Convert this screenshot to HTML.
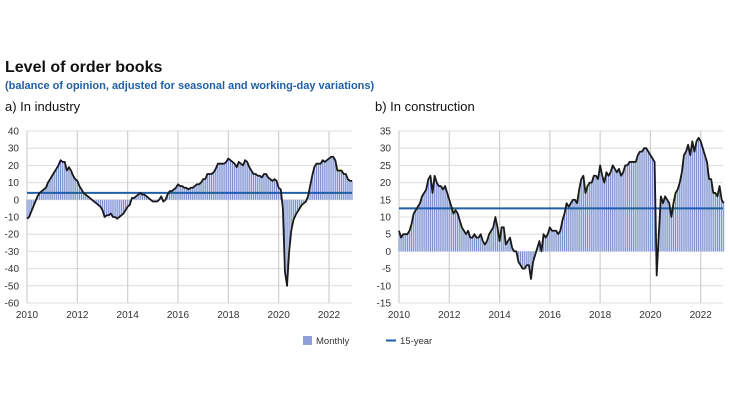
<!DOCTYPE html>
<html><head><meta charset="utf-8"><style>
body{margin:0;background:#fff;font-family:"Liberation Sans",sans-serif;}
svg text{font-family:"Liberation Sans",sans-serif;}
</style></head><body>
<svg width="730" height="410" viewBox="0 0 730 410">
<text x="5" y="72" font-size="16" font-weight="bold" fill="#111">Level of order books</text>
<text x="5" y="89" font-size="11" font-weight="bold" fill="#1f5fa8">(balance of opinion, adjusted for seasonal and working-day variations)</text>
<text x="5" y="111" font-size="13" fill="#111">a)  In industry</text>
<text x="375" y="111" font-size="13" fill="#111">b)  In construction</text>
<g id="left"></g>
<g id="right"></g>
<g>
<rect x="303" y="336" width="9" height="9" fill="#8fa0d8"/>
<text x="316" y="344" font-size="9.5" fill="#333">Monthly</text>
<line x1="386" y1="340.5" x2="396" y2="340.5" stroke="#1f5fa8" stroke-width="2"/>
<text x="400" y="344" font-size="9.5" fill="#333">15-year</text>
</g>
</svg>
<script>
const industry = [
-11,-10,-7,-4,-1,2,4,5,6,7,10,12,
14,16,18,20,23,22,22,17,19,17,14,12,
11,8,6,4,3,2,1,0,-1,-2,-3,-4,
-6,-10,-9,-9,-8,-10,-10,-11,-10,-9,-8,-6,
-4,-3,1,1,2,3,4,3,3,2,1,0,
-1,-1,-1,0,2,-1,0,3,5,5,6,7,
9,8,8,7,7,6,7,7,8,9,9,10,
12,12,15,15,15,16,18,21,21,21,21,22,
24,23,22,21,19,22,21,20,23,22,19,17,
15,15,14,14,13,15,15,13,12,11,12,11,
7,6,-5,-42,-50,-30,-18,-12,-9,-7,-5,-3,
-2,-1,2,8,14,19,21,21,21,23,22,23,
24,25,25,23,17,17,17,15,15,12,11,11];
const industryAvg = 4;
const construction = [
6,4,5,5,5,6,8,11,12,13,14,16,
17,18,21,22,17,22,20,19,19,18,19,17,
15,13,11,12,11,9,7,6,5,6,4,4,
5,4,4,5,3,2,3,5,6,7,10,7,
3,7,7,2,3,4,1,0,0,-3,-4,-5,
-5,-4,-4,-8,-3,-1,1,3,0,5,4,5,
7,6,6,6,5,6,9,11,14,13,14,15,
15,14,18,21,22,17,19,20,20,22,22,21,
25,22,20,23,22,23,25,24,23,24,22,23,
25,25,26,26,26,26,28,29,29,30,30,29,
28,27,26,-7,5,16,14,16,15,14,10,14,
17,18,20,23,28,29,31,28,32,29,32,33,
32,30,28,26,21,21,17,17,16,19,15,14];
const constructionAvg = 12.5;
const industryTicks = [40,30,20,10,0,-10,-20,-30,-40,-50,-60];
const constructionTicks = [35,30,25,20,15,10,5,0,-5,-10,-15];
const yearTicks = [2010,2012,2014,2016,2018,2020,2022];

const NS="http://www.w3.org/2000/svg";
function mk(parent,tag,attrs){const e=document.createElementNS(NS,tag);for(const k in attrs)e.setAttribute(k,attrs[k]);parent.appendChild(e);return e;}
function panel(g,data,avg,ticks,x0,x22,xr,yTop,yBot,lblX,nm){
  const ymax=ticks[0],ymin=ticks[ticks.length-1];
  const X=t=>x0+(t-2010)*(x22-x0)/12;
  const Y=v=>yTop+(ymax-v)*(yBot-yTop)/(ymax-ymin);
  ticks.forEach(t=>{
    const l=mk(g,'line',{x1:x0,x2:xr,y1:Y(t),y2:Y(t),stroke:'#dcdcdc','stroke-width':1});
    
    
    const tx=mk(g,'text',{x:lblX,y:Y(t)+3.5,'font-size':10,fill:'#333','text-anchor':'end'});
    tx.textContent=t;
    
    
  });
  yearTicks.forEach(y=>{
    const l=mk(g,'line',{x1:X(y),x2:X(y),y1:yTop,y2:yBot,stroke:'#cfcfcf','stroke-width':1.2});
    
    
    const tx=mk(g,'text',{x:X(y),y:yBot+15,'font-size':10,fill:'#333','text-anchor':'middle'});
    tx.textContent=y;
    
    
  });
  const pts=data.map((v,i)=>[X(2010+i/12),Y(v)]);
  let d='M'+pts[0][0]+','+Y(0);pts.forEach(p=>d+='L'+p[0]+','+p[1]);d+='L'+pts[pts.length-1][0]+','+Y(0)+'Z';
  const a=mk(g,'path',{d:d,fill:'#d3daf0'});
  
  
  pts.forEach(p=>{
    const b=mk(g,'line',{x1:p[0],x2:p[0],y1:Y(0),y2:p[1],stroke:'#7088cc','stroke-width':0.9});
    
    
  });
  const h=mk(g,'line',{x1:x0,x2:xr,y1:Y(avg),y2:Y(avg),stroke:'#1f5fa8','stroke-width':2});
  
  
  const ln=mk(g,'polyline',{points:pts.map(p=>p.join(',')).join(' '),fill:'none',stroke:'#1a1a1a','stroke-width':1.8,'stroke-linejoin':'round'});
  
  
}
panel(document.getElementById('left'),industry,industryAvg,industryTicks,27,329,352,131,303,19,'industry');
panel(document.getElementById('right'),construction,constructionAvg,constructionTicks,399,700.7,723,131,303,391,'construction');
</script>
</body></html>
